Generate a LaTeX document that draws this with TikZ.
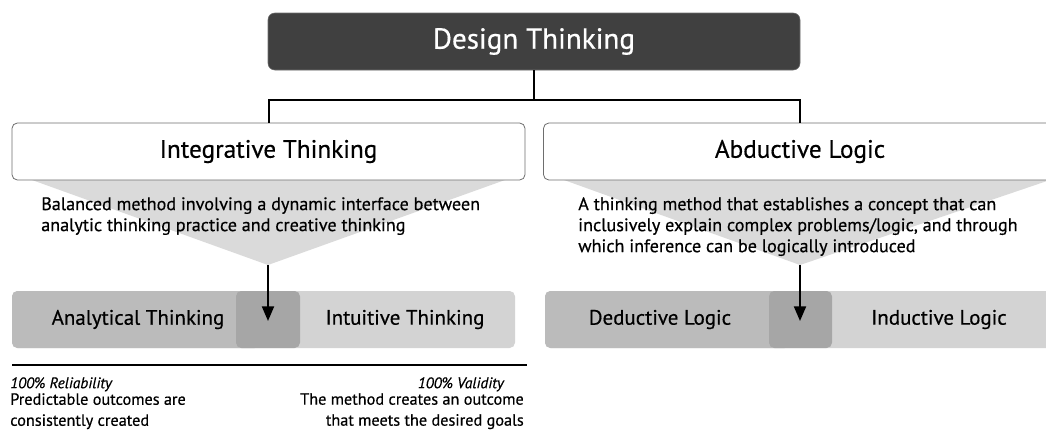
\documentclass[tikz,border=0pt]{standalone}
\usepackage{fontspec}
\setmainfont{PT Sans}[UprightFeatures={FakeBold=0.5}, ItalicFeatures={FakeBold=0.5}]
\usetikzlibrary{positioning,arrows.meta,calc}

\definecolor{headgray}{HTML}{404040}
\definecolor{boxline}{HTML}{6E6E6E}
\definecolor{funnelgray}{HTML}{DADADA}
\definecolor{bardark}{HTML}{BBBBBB}
\definecolor{barmid}{HTML}{A6A6A6}
\definecolor{barlight}{HTML}{D3D3D3}

\begin{document}
\begin{tikzpicture}
    [ x=0.75pt, y=-0.75pt
    , head/.style={fill=headgray, draw=boxline, rounded corners=5pt, text=white
      , minimum width=399pt, minimum height=42.75pt, inner sep=0pt
      , font=\fontsize{21.8}{26}\selectfont}
    , branch/.style={fill=white, draw=boxline, line width=0.6pt, rounded corners=4pt
      , minimum width=384.75pt, minimum height=42.75pt, inner sep=0pt
      , font=\fontsize{18.9}{23}\selectfont}
    , desc/.style={anchor=north west, inner sep=0pt, align=left
      , font=\fontsize{13.6}{15.75}\selectfont}
    , barlabel/.style={inner sep=0pt, font=\fontsize{15.7}{19}\selectfont}
    , note/.style={inner sep=0pt, font=\fontsize{11.5}{14}\selectfont\itshape}
    , small/.style={inner sep=0pt, font=\fontsize{12.2}{15.75}\selectfont}
    , link/.style={line width=1.5pt}
    , down/.style={line width=1.5pt, -{Triangle[length=11pt, width=9pt]}}
    ]
  \useasboundingbox (0,0) rectangle (1046,439);
  \clip (0,0) rectangle (1046,439);

  \fill[funnelgray] (32,180) -- (505,180) -- (268,265) -- cycle;
  \fill[funnelgray] (564,180) -- (1050,180) -- (800,265) -- cycle;

  \node[head] (dt) at (534,41.5) {Design Thinking};
  \node[branch] (it) at (268.5,151.5) {Integrative Thinking};
  \node[branch] (al) at (800,151.5) {Abductive Logic};

  \coordinate (fork) at (534,100);
  \draw[link] (dt.south) -- (fork);
  \draw[link] (fork) -| (it.north);
  \draw[link] (fork) -| (al.north);

  \node[desc] (itdesc) at (41,197)
    {Balanced method involving a dynamic interface between\\
     analytic thinking practice and creative thinking};
  \node[desc] (aldesc) at (578,197)
    {A thinking method that establishes a concept that can\\
     inclusively explain complex problems/logic, and through\\
     which inference can be logically introduced};

  \fill[barlight, rounded corners=4pt] (12,291) rectangle (515,348);
  \fill[bardark, rounded corners=4pt] (12,291) rectangle (260,348);
  \fill[barmid, rounded corners=4pt] (236,291) rectangle (300,348);
  \fill[barlight, rounded corners=4pt] (545,291) rectangle (1060,348);
  \fill[bardark, rounded corners=4pt] (545,291) rectangle (790,348);
  \fill[barmid, rounded corners=4pt] (769,291) rectangle (832,348);

  \node[barlabel] (anl) at (138,319.5) {Analytical Thinking};
  \node[barlabel] (int) at (405,319.5) {Intuitive Thinking};
  \node[barlabel] (ded) at (660,319.5) {Deductive Logic};
  \node[barlabel] (ind) at (939,319.5) {Inductive Logic};

  \coordinate (itfoot) at (268,265);
  \coordinate (alfoot) at (800,265);
  \draw[down] (itfoot) -- (268,321);
  \draw[down] (alfoot) -- (800,321);

  \coordinate (rulel) at (12,365);
  \coordinate (ruler) at (527,365);
  \draw[line width=1.5pt] (rulel) -- (ruler);

  \node[note, anchor=north west] (rel) at (10,377) {100\% Reliability};
  \node[note, anchor=north east] (val) at (504,377) {100\% Validity};
  \node[small, anchor=north west, align=left] (pred) at (10,393)
    {Predictable outcomes are\\consistently created};
  \node[small, anchor=north east, align=right] (meth) at (524,393)
    {The method creates an outcome\\that meets the desired goals};
\end{tikzpicture}
\end{document}
